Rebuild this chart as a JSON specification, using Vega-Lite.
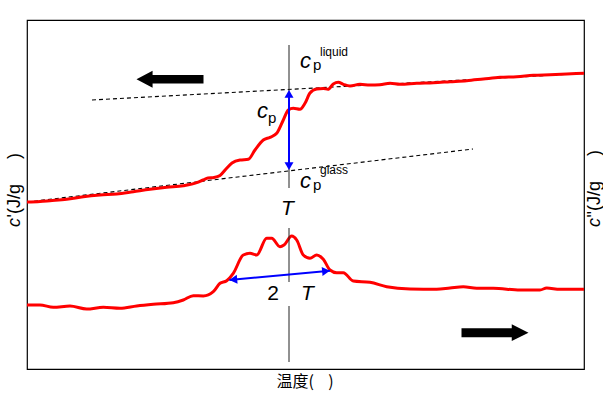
{
  "$schema": "https://vega.github.io/schema/vega-lite/v6.json",
  "width": 557,
  "height": 349,
  "autosize": {"type": "none"},
  "padding": {"left": 27, "top": 20, "right": 19, "bottom": 25},
  "background": "white",
  "config": {"view": {"stroke": "black", "strokeWidth": 1.2}, "font": "Liberation Sans"},
  "datasets": {
    "upper": [
      {"x":0,"y":167},{"x":13,"y":167.5},{"x":23,"y":168.3},{"x":39.7,"y":169.7},{"x":56.3,"y":172.3},{"x":73,"y":174},{"x":89.7,"y":175},{"x":106.3,"y":177.3},{"x":123,"y":179.7},{"x":139.7,"y":181.7},{"x":156.3,"y":183.3},{"x":169.7,"y":186.3},{"x":176,"y":189},{"x":181,"y":191},{"x":187,"y":191.5},{"x":193,"y":193.5},{"x":199,"y":200},{"x":205,"y":206},{"x":213,"y":209},{"x":221.3,"y":209.7},{"x":228,"y":219},{"x":236.3,"y":229},{"x":243,"y":231.7},{"x":249.7,"y":235.7},{"x":256.3,"y":249},{"x":261.3,"y":259},{"x":266.3,"y":260.7},{"x":273,"y":259.7},{"x":278,"y":265.7},{"x":283,"y":276},{"x":289.7,"y":280},{"x":296.3,"y":280.5},{"x":301,"y":279.7},{"x":306.3,"y":285},{"x":311.3,"y":286.7},{"x":316.3,"y":284.7},{"x":323,"y":283},{"x":333,"y":284.7},{"x":343,"y":284},{"x":353,"y":284.3},{"x":363,"y":285.7},{"x":373,"y":284.7},{"x":389.7,"y":285.7},{"x":406.3,"y":286.3},{"x":423,"y":287.3},{"x":439.7,"y":288.3},{"x":456.3,"y":290},{"x":473,"y":291.7},{"x":489.7,"y":292.3},{"x":506.3,"y":293.7},{"x":523,"y":294.3},{"x":539.7,"y":295},{"x":557,"y":295.7}
    ],
    "lower": [
      {"x":0,"y":64},{"x":13,"y":64},{"x":26.3,"y":61.7},{"x":43,"y":63},{"x":59.7,"y":60},{"x":76.3,"y":61.7},{"x":93,"y":60.7},{"x":109.7,"y":63},{"x":126.3,"y":64.7},{"x":146.3,"y":66.3},{"x":156.3,"y":69},{"x":166.3,"y":73.3},{"x":176.3,"y":73},{"x":186.3,"y":77.3},{"x":193,"y":85.7},{"x":199.7,"y":88.3},{"x":206.3,"y":95.7},{"x":216.3,"y":114},{"x":223,"y":115.7},{"x":229.7,"y":114},{"x":239.7,"y":130.7},{"x":244.7,"y":130.7},{"x":253,"y":122.3},{"x":257,"y":124},{"x":264.7,"y":133},{"x":269.7,"y":129},{"x":276.3,"y":114},{"x":283,"y":110.7},{"x":289.7,"y":114},{"x":296.3,"y":109.7},{"x":303,"y":99},{"x":309.7,"y":96.3},{"x":316.3,"y":96.3},{"x":326.3,"y":88},{"x":343,"y":86.7},{"x":359.7,"y":82.3},{"x":383,"y":80},{"x":409.7,"y":79.7},{"x":423,"y":81},{"x":436.3,"y":82.3},{"x":449.7,"y":80.7},{"x":466.3,"y":80.7},{"x":493,"y":79},{"x":513,"y":79},{"x":519.7,"y":81},{"x":533,"y":79.7},{"x":557,"y":79.7}
    ],
    "dashed": [
      {"id":"liquid","x":65,"y":269},{"id":"liquid","x":557,"y":295.5},
      {"id":"glass","x":0,"y":167},{"id":"glass","x":446,"y":220}
    ],
    "vline": [
      {"x":262,"y":324,"y2":181},{"x":262,"y":141,"y2":87},{"x":262,"y":63,"y2":7}
    ],
    "barrows": [
      {"x":262,"y":277,"x2":262,"y2":201},
      {"x":202.3,"y":89,"x2":303,"y2":98.3}
    ]
  },
  "encoding": {},
  "layer": [
    {
      "data": {"name": "dashed"},
      "mark": {"type": "line", "color": "black", "strokeWidth": 1.1, "strokeDash": [4, 3]},
      "encoding": {
        "x": {"field": "x", "type": "quantitative", "scale": {"domain": [0, 557], "nice": false, "zero": false}, "axis": null},
        "y": {"field": "y", "type": "quantitative", "scale": {"domain": [0, 349], "nice": false, "zero": false}, "axis": null},
        "detail": {"field": "id"}
      }
    },
    {
      "data": {"name": "upper"},
      "mark": {"type": "line", "color": "#ff0000", "strokeWidth": 3, "interpolate": "monotone"},
      "encoding": {
        "x": {"field": "x", "type": "quantitative"},
        "y": {"field": "y", "type": "quantitative"}
      }
    },
    {
      "data": {"name": "lower"},
      "mark": {"type": "line", "color": "#ff0000", "strokeWidth": 3, "interpolate": "monotone"},
      "encoding": {
        "x": {"field": "x", "type": "quantitative"},
        "y": {"field": "y", "type": "quantitative"}
      }
    },
    {
      "data": {"name": "vline"},
      "mark": {"type": "rule", "color": "#222222", "strokeWidth": 1},
      "encoding": {
        "x": {"field": "x", "type": "quantitative"},
        "y": {"field": "y", "type": "quantitative"},
        "y2": {"field": "y2"}
      }
    },
    {
      "data": {"name": "barrows"},
      "mark": {"type": "rule", "color": "#0000ff", "strokeWidth": 2},
      "encoding": {
        "x": {"field": "x", "type": "quantitative"},
        "y": {"field": "y", "type": "quantitative"},
        "x2": {"field": "x2"},
        "y2": {"field": "y2"}
      }
    },
    {
      "data": {"values": [{"x":262,"y":275.1}]},
      "mark": {"type": "point", "shape": "triangle-up", "filled": true, "color": "#0000ff", "size": 81, "opacity": 1},
      "encoding": {"x": {"field": "x", "type": "quantitative"}, "y": {"field": "y", "type": "quantitative"}}
    },
    {
      "data": {"values": [{"x":262,"y":202.9}]},
      "mark": {"type": "point", "shape": "triangle-down", "filled": true, "color": "#0000ff", "size": 81, "opacity": 1},
      "encoding": {"x": {"field": "x", "type": "quantitative"}, "y": {"field": "y", "type": "quantitative"}}
    },
    {
      "data": {"values": [{"x":206.3,"y":89.4}]},
      "mark": {"type": "point", "shape": "triangle-left", "filled": true, "color": "#0000ff", "size": 81, "opacity": 1, "angle": -5.3},
      "encoding": {"x": {"field": "x", "type": "quantitative"}, "y": {"field": "y", "type": "quantitative"}}
    },
    {
      "data": {"values": [{"x":299,"y":97.9}]},
      "mark": {"type": "point", "shape": "triangle-right", "filled": true, "color": "#0000ff", "size": 81, "opacity": 1, "angle": -5.3},
      "encoding": {"x": {"field": "x", "type": "quantitative"}, "y": {"field": "y", "type": "quantitative"}}
    },
    {
      "data": {"values": [{"x":143,"y":289.7}]},
      "mark": {"type": "point", "shape": "M-1,0L-0.52,-0.255L-0.52,-0.125L1,-0.125L1,0.125L-0.52,0.125L-0.52,0.255Z", "filled": true, "color": "black", "size": 4489, "opacity": 1, "strokeWidth": 0},
      "encoding": {"x": {"field": "x", "type": "quantitative"}, "y": {"field": "y", "type": "quantitative"}}
    },
    {
      "data": {"values": [{"x":468,"y":36.3}]},
      "mark": {"type": "point", "shape": "M1,0L0.5,-0.25L0.5,-0.135L-1,-0.135L-1,0.135L0.5,0.135L0.5,0.25Z", "filled": true, "color": "black", "size": 4489, "opacity": 1, "strokeWidth": 0},
      "encoding": {"x": {"field": "x", "type": "quantitative"}, "y": {"field": "y", "type": "quantitative"}}
    },
    {
      "data": {"values": [{"x":273,"y":301,"t":"c"},{"x":273,"y":181,"t":"c"},{"x":230,"y":251,"t":"c"}]},
      "mark": {"type": "text", "font": "Liberation Sans", "fontSize": 22, "fontStyle": "italic", "align": "left", "baseline": "alphabetic", "color": "black"},
      "encoding": {"x": {"field": "x", "type": "quantitative"}, "y": {"field": "y", "type": "quantitative"}, "text": {"field": "t"}}
    },
    {
      "data": {"values": [{"x":286,"y":299,"t":"p"},{"x":286,"y":179,"t":"p"},{"x":241,"y":246,"t":"p"}]},
      "mark": {"type": "text", "font": "Liberation Sans", "fontSize": 15, "align": "left", "baseline": "alphabetic", "color": "black"},
      "encoding": {"x": {"field": "x", "type": "quantitative"}, "y": {"field": "y", "type": "quantitative"}, "text": {"field": "t"}}
    },
    {
      "data": {"values": [{"x":293,"y":313,"t":"liquid"},{"x":293,"y":195,"t":"glass"}]},
      "mark": {"type": "text", "font": "Liberation Sans", "fontSize": 12, "align": "left", "baseline": "alphabetic", "color": "black"},
      "encoding": {"x": {"field": "x", "type": "quantitative"}, "y": {"field": "y", "type": "quantitative"}, "text": {"field": "t"}}
    },
    {
      "data": {"values": [{"x":260.5,"y":154,"t":"T"},{"x":280.5,"y":69,"t":"T"}]},
      "mark": {"type": "text", "font": "Liberation Sans", "fontSize": 21, "fontStyle": "italic", "align": "center", "baseline": "alphabetic", "color": "black"},
      "encoding": {"x": {"field": "x", "type": "quantitative"}, "y": {"field": "y", "type": "quantitative"}, "text": {"field": "t"}}
    },
    {
      "data": {"values": [{"x":246,"y":69,"t":"2"}]},
      "mark": {"type": "text", "font": "Liberation Sans", "fontSize": 21, "align": "center", "baseline": "alphabetic", "color": "black"},
      "encoding": {"x": {"field": "x", "type": "quantitative"}, "y": {"field": "y", "type": "quantitative"}, "text": {"field": "t"}}
    },
    {
      "data": {"values": [{"x":-12,"y":142,"t":"c"},{"x":568,"y":142,"t":"c"}]},
      "mark": {"type": "text", "font": "Liberation Sans", "fontSize": 18, "fontStyle": "italic", "angle": 270, "align": "left", "baseline": "middle", "color": "black"},
      "encoding": {"x": {"field": "x", "type": "quantitative"}, "y": {"field": "y", "type": "quantitative"}, "text": {"field": "t"}}
    },
    {
      "data": {"values": [{"x":-12,"y":151.5,"t":"'(J/g\u00a0\u00a0\u00a0\u00a0\u00a0)"},{"x":568,"y":151.5,"t":"\"(J/g\u00a0\u00a0\u00a0\u00a0\u00a0)"}]},
      "mark": {"type": "text", "font": "Liberation Sans", "fontSize": 18, "angle": 270, "align": "left", "baseline": "middle", "color": "black"},
      "encoding": {"x": {"field": "x", "type": "quantitative"}, "y": {"field": "y", "type": "quantitative"}, "text": {"field": "t"}}
    },
    {
      "data": {"values": [{"x":278,"y":-13,"t":"温度(\u00a0\u00a0\u00a0\u00a0)"}]},
      "mark": {"type": "text", "font": "Noto Sans CJK SC", "fontSize": 16, "align": "center", "baseline": "middle", "color": "black"},
      "encoding": {"x": {"field": "x", "type": "quantitative"}, "y": {"field": "y", "type": "quantitative"}, "text": {"field": "t"}}
    }
  ]
}
